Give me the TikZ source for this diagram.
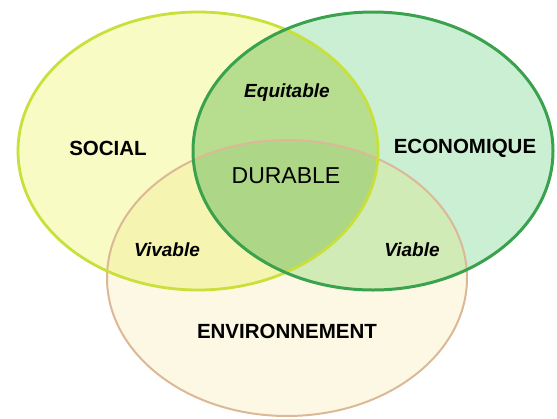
\documentclass[tikz,border=0pt]{standalone}
\usepackage{fontspec}
\setmainfont{Liberation Sans}
\definecolor{socfill}{HTML}{F8FBC4}
\definecolor{ecofill}{HTML}{CBEFD3}
\definecolor{envfill}{HTML}{FDF8E4}
\definecolor{sefill}{HTML}{B6DE8E}
\definecolor{svfill}{HTML}{F5F4B0}
\definecolor{evfill}{HTML}{D0EBB6}
\definecolor{allfill}{HTML}{ADD786}
\definecolor{socline}{HTML}{C9E03A}
\definecolor{ecoline}{HTML}{3AA24C}
\definecolor{envline}{HTML}{DDB896}
\tikzset{
  big/.style={font=\fontsize{20.5}{22}\selectfont\bfseries, inner sep=1pt},
  small/.style={font=\fontsize{19}{21}\selectfont\bfseries\itshape, inner sep=1pt},
  mid/.style={font=\fontsize{23}{25}\selectfont, inner sep=1pt}
}
\begin{document}
\begin{tikzpicture}[x=1pt,y=-1pt]
\useasboundingbox (0,0) rectangle (557,418);
\coordinate (S) at (198,151);
\coordinate (E) at (373,151);
\coordinate (V) at (287,278);
\def\Spath{(S) ellipse [x radius=180, y radius=139]}
\def\Epath{(E) ellipse [x radius=180, y radius=139]}
\def\Vpath{(V) ellipse [x radius=180, y radius=138]}
% single fills
\fill[envfill] \Vpath;
\fill[socfill] \Spath;
\fill[ecofill] \Epath;
% pair overlaps
\begin{scope}\clip \Spath; \fill[svfill] \Vpath; \end{scope}
\begin{scope}\clip \Epath; \fill[evfill] \Vpath; \end{scope}
\begin{scope}\clip \Spath; \fill[sefill] \Epath; \end{scope}
\begin{scope}\clip \Spath; \clip \Epath; \fill[allfill] \Vpath; \end{scope}
% outlines
\draw[envline, line width=2pt] \Vpath;
\draw[socline, line width=2.8pt] \Spath;
\draw[ecoline, line width=3pt] \Epath;
% labels
\node[big] (social) at (108,148) {SOCIAL};
\node[big] (eco) at (465,148) {ECONOMIQUE};
\node[big] (env) at (287,331) {ENVIRONNEMENT};
\node[mid] (dur) at (286,176) {DURABLE};
\node[small] (equi) at (287,93) {Equitable};
\node[small] (viv) at (167,250) {Vivable};
\node[small] (via) at (412,250) {Viable};
\end{tikzpicture}
\end{document}
